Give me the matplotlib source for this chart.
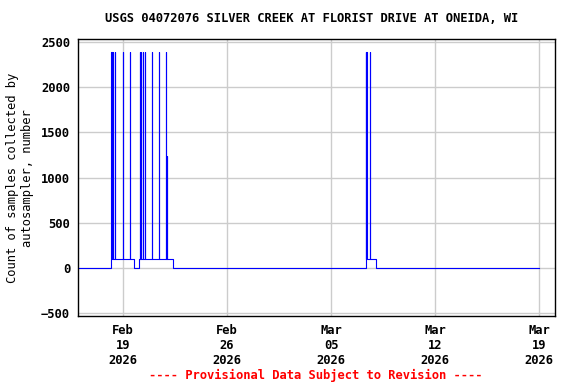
import pandas as pd
import numpy as np
import matplotlib.pyplot as plt
import matplotlib.dates as mdates

# Nivel base de la serie (cambios de nivel)
nivel_tiempos = ['2026-02-16 00:00', '2026-02-18 04:36', '2026-02-19 17:46',
                 '2026-02-20 01:51', '2026-02-22 08:46', '2026-03-07 07:34',
                 '2026-03-08 00:43', '2026-03-19 00:00']
nivel_valores = [0, 100, 0, 100, 0, 100, 0, 0]

# Picos cortos del conteo de muestras
pico_tiempos = ['2026-02-18 05:17', '2026-02-18 06:14', '2026-02-18 07:26',
                '2026-02-18 11:02', '2026-02-19 00:00', '2026-02-19 11:18',
                '2026-02-20 03:27', '2026-02-20 04:34', '2026-02-20 08:18',
                '2026-02-20 11:31', '2026-02-20 22:51', '2026-02-21 10:09',
                '2026-02-21 21:27', '2026-02-21 22:34',
                '2026-03-07 08:10', '2026-03-07 09:07', '2026-03-07 15:00']
pico_valores = [2390, 2390, 2390, 2390, 2390, 2390, 2390, 2390, 2390, 2390,
                2390, 2390, 2390, 1240, 2390, 2390, 2390]

fechas_ticks = ['2026-02-19', '2026-02-26', '2026-03-05', '2026-03-12', '2026-03-19']

# Construir la serie completa
nivel = pd.Series(nivel_valores, index=pd.to_datetime(nivel_tiempos))
filas = [(t, v) for t, v in zip(nivel.index, nivel.values)]
dur = pd.Timedelta(minutes=15)
for t, v in zip(pd.to_datetime(pico_tiempos), pico_valores):
    base = nivel[nivel.index <= t].iloc[-1]
    filas.append((t, v))
    filas.append((t + dur, base))
serie = pd.DataFrame(filas, columns=['tiempo', 'valor']).sort_values('tiempo')

fuente = ['DejaVu Sans Mono']
plt.rcParams['font.family'] = fuente
plt.rcParams['font.weight'] = 'bold'
plt.rcParams['font.size'] = 8.7

fig = plt.figure(figsize=(5.76, 3.84), dpi=100)
ax = fig.add_axes([0.136, 0.177, 0.8275, 0.7207])

ax.plot(serie['tiempo'], serie['valor'], color='#0000ff', linewidth=0.8,
        drawstyle='steps-post')

ax.set_xlim(pd.Timestamp('2026-02-16 00:00'), pd.Timestamp('2026-03-20 01:20'))
ax.set_ylim(-530, 2530)
ax.set_yticks(np.arange(-500, 2501, 500))
ax.set_xticks(pd.to_datetime(fechas_ticks))
ax.xaxis.set_major_formatter(mdates.DateFormatter('%b\n%d\n%Y'))
ax.tick_params(length=0, pad=6)
ax.grid(True, color='#cccccc', linewidth=1)
ax.set_axisbelow(True)
for s in ax.spines.values():
    s.set_linewidth(1)

ax.set_ylabel('Count of samples collected by\nautosampler, number', labelpad=5)
fig.text(0.541, 0.951, 'USGS 04072076 SILVER CREEK AT FLORIST DRIVE AT ONEIDA, WI',
         ha='center', va='center')
fig.text(0.548, 0.023, '---- Provisional Data Subject to Revision ----',
         ha='center', va='center', color='red')

plt.savefig('out.png', dpi=100)
